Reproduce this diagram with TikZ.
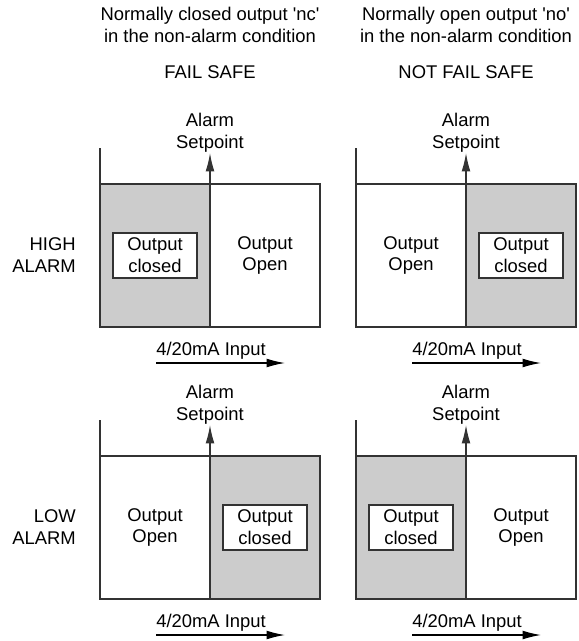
\documentclass[tikz,border=0pt]{standalone}
\usepackage{fontspec}
\setmainfont{Liberation Sans}
\usetikzlibrary{arrows.meta}
\definecolor{panelgray}{gray}{0.8}
\tikzset{
  ln/.style={line width=0.9pt, draw=black!80},
  txt/.style={font=\fontsize{13.1}{15.6}\selectfont, align=center, inner sep=0pt},
  tip/.style={-{Latex[length=4.6mm,width=2.2mm]}},
  outbox/.style={draw=black!80, line width=0.9pt, fill=white, minimum width=2.1cm, minimum height=1.125cm, inner sep=0pt}
}
% #1 = x of the shaded half, #2 = name of the chart
\newcommand{\chart}[2]{%
  \fill[panelgray] (#1,0) rectangle ++(2.75,-3.575);
  \draw[ln] (0,0.9) -- (0,-3.575) -- (5.5,-3.575) -- (5.5,0) -- (0,0);
  \coordinate (#2-sp) at (2.75,0);
  \coordinate (#2-base) at (2.75,-3.575);
  \draw[ln] (#2-sp) -- (#2-base);
  \node[txt, anchor=south] (#2-set) at (2.75,0.775) {Alarm\\Setpoint};
  \draw[ln, tip] (#2-sp) -- (#2-set);
  \node[txt, outbox] (#2-closed) at ({#1+1.375},-1.7875) {Output\\closed};
  \node[txt] (#2-open) at ({4.125-#1},-1.7875) {Output\\Open};
  \coordinate (#2-in0) at (1.4,-4.475);
  \coordinate (#2-in1) at (4.625,-4.475);
  \draw[line width=0.9pt, tip] (#2-in0) -- (#2-in1);
  \node[txt, anchor=west] (#2-input) at (1.4,-4.175) {4/20mA Input};
}

\begin{document}
\begin{tikzpicture}
  \useasboundingbox (0,0) rectangle (14.475,-16.025);
  % ------------------------------------------------------------ column heads
  \node[txt] (nc) at (5.25,-0.6125) {Normally closed output \textquotesingle nc\textquotesingle\\in the non-alarm condition};
  \node[txt] (no) at (11.65,-0.6125) {Normally open output \textquotesingle no\textquotesingle\\in the non-alarm condition};
  \node[txt] (fs) at (5.25,-1.8) {FAIL SAFE};
  \node[txt] (nfs) at (11.65,-1.8) {NOT FAIL SAFE};
  % ------------------------------------------------------------ row heads
  \node[txt, anchor=east, align=right] (high) at (1.9,-6.3875) {HIGH\\ALARM};
  \node[txt, anchor=east, align=right] (low) at (1.9,-13.1875) {LOW\\ALARM};
  % ------------------------------------------------------------ high alarm
  \begin{scope}[shift={(2.5,-4.6)}] \chart{0}{hfs} \end{scope}
  \begin{scope}[shift={(8.9,-4.6)}] \chart{2.75}{hnfs} \end{scope}
  % ------------------------------------------------------------ low alarm
  \begin{scope}[shift={(2.5,-11.4)}] \chart{2.75}{lfs} \end{scope}
  \begin{scope}[shift={(8.9,-11.4)}] \chart{0}{lnfs} \end{scope}
\end{tikzpicture}
\end{document}
